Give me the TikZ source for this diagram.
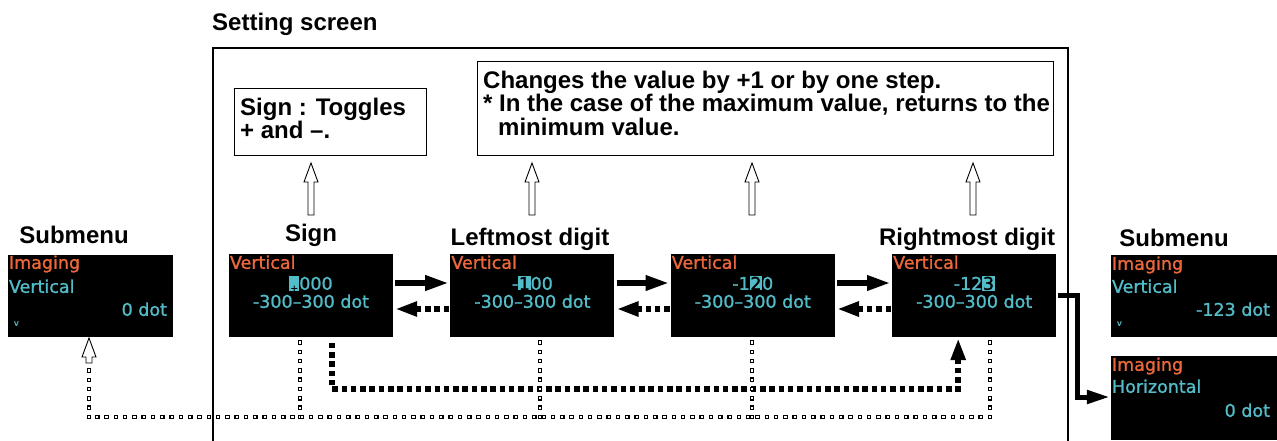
\documentclass[tikz,border=0pt]{standalone}
\usepackage{fontspec}
\setmainfont{Liberation Sans}
\newfontfamily\scrfont[FakeBold=1.3]{DejaVu Sans}
\usetikzlibrary{arrows.meta,positioning,calc,decorations.markings}
\definecolor{scrorange}{RGB}{236,104,60}
\definecolor{scrcyan}{RGB}{82,188,200}
\newcommand{\hl}[1]{{\setlength{\fboxsep}{0.6pt}\colorbox{scrcyan}{\color{black}#1}}}
\newcommand{\hlsign}{{\setlength{\fboxsep}{0.6pt}\colorbox{scrcyan}{\makebox[0.5em]{\vphantom{0}\smash{\raisebox{-1.5pt}{\color{black}\fontsize{9}{9}\selectfont +}}}}}}

\begin{document}
\begin{tikzpicture}[
  x=1pt, y=-1pt,
  lbl/.style={font=\bfseries\fontsize{24}{23.5}\selectfont, inner sep=0pt},
  note/.style={draw, line width=1.3pt},
  scr/.style={fill=black, minimum width=164pt, minimum height=83pt, inner sep=0pt},
  hdr/.style={text=scrorange, font=\scrfont\fontsize{17.5}{17.5}\selectfont, inner sep=0pt, anchor=base west},
  val/.style={text=scrcyan, font=\scrfont\fontsize{17.5}{17.5}\selectfont, inner sep=0pt},
  fwd/.style={line width=6pt, -{Triangle[length=24pt,width=14pt]}, shorten >=1pt},
  bck/.style={line width=5.5pt, dash pattern=on 5.5pt off 3.8pt, -{Triangle[length=22pt,width=14pt]}},
  sq/.style={draw, fill=white, line width=1.2pt, minimum size=3.4pt, inner sep=0pt},
  sqline/.style={decoration={markings, mark=between positions 0 and 1 step 9.3pt with {\node[sq] {};}}, postaction={decorate}},
  pics/uparr/.style={code={\draw[line width=0.9pt, fill=white] (-3,0) -- (-3,{19-#1}) -- (-7,{19-#1}) -- (0,-#1) -- (7,{19-#1}) -- (3,{19-#1}) -- (3,0) -- cycle;}}
]
\useasboundingbox (0,0) rectangle (1277,440);

% titles
\node[lbl, anchor=base west] (sslbl) at (212,30) {Setting screen};
\node[lbl, anchor=base] (sublbl) at (74,243) {Submenu};
\node[lbl, anchor=base] (sgnlbl) at (311,241) {Sign};
\node[lbl, anchor=base] (lftlbl) at (530,245) {Leftmost digit};
\node[lbl, anchor=base] (rgtlbl) at (967,245) {Rightmost digit};
\node[lbl, anchor=base] (sub2lbl) at (1174,246) {Submenu};

% notes
\node[note, anchor=north west, minimum width=192pt, minimum height=67pt] (tgl) at (234,88) {};
\node[lbl, anchor=north west, align=left] (tgltxt) at (240,97.5) {Sign : Toggles\\+ and –.};
\node[note, anchor=north west, minimum width=576pt, minimum height=94pt] (stp) at (477,61) {};
\node[lbl, anchor=north west, align=left] (stptxt) at (483,70.5) {Changes the value by +1 or by one step.\\* In the case of the maximum value, returns to the\\\hspace*{15pt}minimum value.};
\foreach \x in {311,532,752,973} \pic at (\x,215) {uparr=52};

% screens
\node[scr] (sgn) at (311,295.5) {};
\node[scr, right=57pt of sgn] (lft) {};
\node[scr, right=56pt of lft] (mid) {};
\node[scr, right=57pt of mid] (rgt) {};
\foreach \s/\v in {sgn/{\hlsign000}, lft/{-\hl{1}00}, mid/{-1\hl{2}0}, rgt/{-12\hl{3}}} {
  \node[hdr] (\s-hd) at ([xshift=1pt,yshift=-15pt]\s.north west) {Vertical};
  \node[val, anchor=base] (\s-vl) at ([yshift=-36pt]\s.north) {\v};
  \node[val, anchor=base] (\s-rg) at ([yshift=-54pt]\s.north) {-300–300 dot};
}

% submenus
\node[scr, minimum width=165pt, minimum height=82pt] (sub) at (90.5,296) {};
\node[hdr] (sub-a) at ([xshift=1pt,yshift=-14pt]sub.north west) {Imaging};
\node[val, anchor=base west] (sub-b) at ([xshift=1pt,yshift=-38pt]sub.north west) {Vertical};
\node[val, anchor=base east] (sub-c) at ([xshift=-6pt,yshift=-61pt]sub.north east) {0 dot};
\node[val, anchor=base west, font=\scrfont\fontsize{8}{8}\selectfont] (sub-d) at ([xshift=6pt,yshift=-71pt]sub.north west) {v};

\node[scr, minimum width=166pt, minimum height=82pt] (subv) at (1194,296) {};
\node[hdr] (subv-a) at ([xshift=1pt,yshift=-15pt]subv.north west) {Imaging};
\node[val, anchor=base west] (subv-b) at ([xshift=1pt,yshift=-38pt]subv.north west) {Vertical};
\node[val, anchor=base east] (subv-c) at ([xshift=-7pt,yshift=-61pt]subv.north east) {-123 dot};
\node[val, anchor=base west, font=\scrfont\fontsize{8}{8}\selectfont] (subv-d) at ([xshift=6pt,yshift=-71pt]subv.north west) {v};

\node[scr, minimum width=166pt, minimum height=84pt] (subh) at (1194,398) {};
\node[hdr] (subh-a) at ([xshift=1pt,yshift=-15pt]subh.north west) {Imaging};
\node[val, anchor=base west] (subh-b) at ([xshift=1pt,yshift=-37pt]subh.north west) {Horizontal};
\node[val, anchor=base east] (subh-c) at ([xshift=-7pt,yshift=-61pt]subh.north east) {0 dot};

% moving between digits
\foreach \a/\b in {sgn/lft, lft/mid, mid/rgt} {
  \draw[fwd] ([xshift=2pt,yshift=12.5pt]\a.east) -- ([yshift=12.5pt]\b.west);
  \draw[bck] ([xshift=-1pt,yshift=-13.5pt]\b.west) -- ([xshift=2pt,yshift=-13.5pt]\a.east);
}

% sign -> rightmost digit
\coordinate (bk1) at ([xshift=21pt,yshift=-5.5pt]sgn.south);
\coordinate (bk2) at ([xshift=-16pt,yshift=-1pt]rgt.south);
\coordinate (bkrow) at (0,389);
\draw[bck] (bk1) |- (bk2 |- bkrow) -- (bk2);

% back to submenu
\foreach \x in {300,540,752,990} \path[sqline] (\x,342.5) -- (\x,417);
\path[sqline] (990,417) -- (89,417);
\path[sqline] (89,417) -- (89,366);
\pic at (89,363) {uparr=25};

% confirm
\draw[line width=5pt, -{Triangle[length=23pt,width=13pt]}] ([xshift=2pt]rgt.east) -- ++(19pt,0) |- ([xshift=-1pt,yshift=1pt]subh.west);

% frame
\draw[line width=2.2pt] (213,441) -- (213,48) -- (1068,48) -- (1068,441);
\end{tikzpicture}
\end{document}
